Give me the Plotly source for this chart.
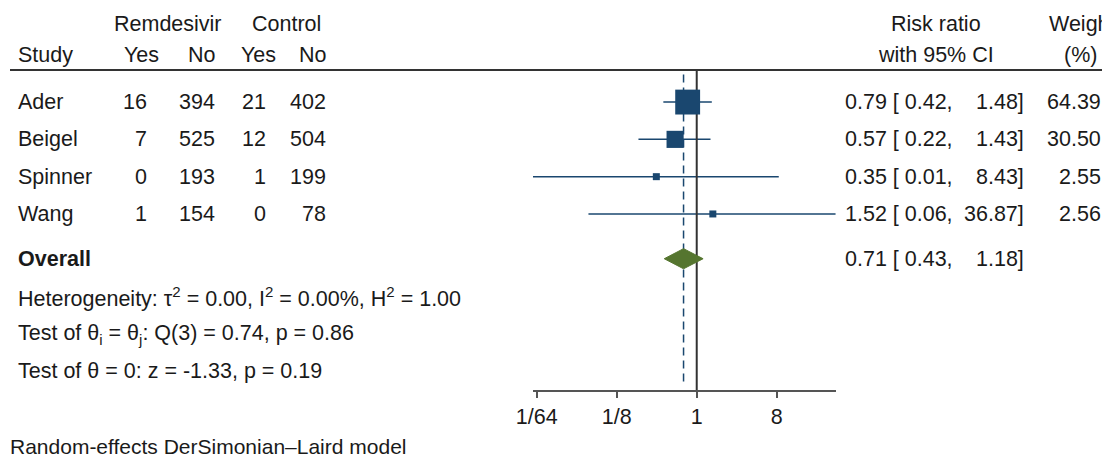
import plotly.graph_objects as go
import math

studies = ["Ader", "Beigel", "Spinner", "Wang"]
rem_yes = [16, 7, 0, 1]
rem_no = [394, 525, 193, 154]
ctl_yes = [21, 12, 1, 0]
ctl_no = [402, 504, 199, 78]
rr = [0.79, 0.57, 0.35, 1.52]
rr_lo = [0.42, 0.22, 0.01, 0.06]
rr_hi = [1.48, 1.43, 8.43, 36.87]
weight = [64.39, 30.50, 2.55, 2.56]
overall = [0.71, 0.43, 1.18]

tick_vals = [1 / 64, 1 / 8, 1, 8]
tick_text = ["1/64", "1/8", "1", "8"]

# page has an 8px body margin, so everything is placed 8px in from the window edge
OFF = 8
W, H = 1110, 449
L, R, T, B = 525, 282, 62, 67
Y_TOP, Y_BOT = -0.86, 7.72
FONT = "Liberation Sans, Arial, sans-serif"
NAVY = "#1a476f"
GREEN = "#55752f"
TXT = "#1a1a1a"
FS = 21.5

rows = [0, 1, 2, 3]
row_overall = 4.2
row_stats = [5.22, 6.22, 7.21]


def px(x):
    return (x - OFF - L) / (W - L - R)


def py(y):
    return 1 - (y - OFF - T) / (H - T - B)


fig = go.Figure()

# CI lines
xs, ys = [], []
for i in range(len(studies)):
    xs += [rr_lo[i], rr_hi[i], None]
    ys += [rows[i], rows[i], None]
fig.add_trace(go.Scatter(x=xs, y=ys, mode="lines", line=dict(color=NAVY, width=1.5),
                         hoverinfo="skip", showlegend=False))

# no-effect line and overall dashed line
fig.add_trace(go.Scatter(x=[1, 1], y=[Y_TOP, Y_BOT], mode="lines",
                         line=dict(color="#333333", width=2), showlegend=False))
fig.add_trace(go.Scatter(x=[overall[0], overall[0]], y=[Y_TOP + 0.12, Y_BOT - 0.12], mode="lines",
                         line=dict(color=NAVY, width=1.5, dash="8px,5px"), showlegend=False))

# weighted squares
sizes = [max(3.1 * math.sqrt(w), 7) for w in weight]
fig.add_trace(go.Scatter(x=rr, y=rows, mode="markers",
                         marker=dict(symbol="square", size=sizes, color=NAVY, opacity=1,
                                     line=dict(width=0)),
                         showlegend=False))

# overall diamond
dh = 0.27
fig.add_trace(go.Scatter(x=[overall[1], overall[0], overall[2], overall[0], overall[1]],
                         y=[row_overall, row_overall - dh, row_overall, row_overall + dh, row_overall],
                         mode="lines", fill="toself", fillcolor=GREEN,
                         line=dict(color=GREEN, width=1), showlegend=False))


def txt(x, y, s, anchor="left", yref="y", size=FS, bold=False):
    if bold:
        s = "<b>" + s + "</b>"
    fig.add_annotation(x=px(x), y=y, xref="paper", yref=yref, text=s, showarrow=False,
                       xanchor=anchor, yanchor="middle", font=dict(family=FONT, size=size, color=TXT))


# headers (positions in window pixels)
h1, h2 = py(24), py(55)
txt(168, h1, "Remdesivir", "center", yref="paper")
txt(286, h1, "Control", "center", yref="paper")
txt(936, h1, "Risk ratio", "center", yref="paper")
txt(1047, h1, "Weight", "left", yref="paper")
txt(16, h2, "Study", yref="paper")
txt(141, h2, "Yes", "center", yref="paper")
txt(202, h2, "No", "center", yref="paper")
txt(258, h2, "Yes", "center", yref="paper")
txt(313, h2, "No", "center", yref="paper")
txt(936, h2, "with 95% CI", "center", yref="paper")
txt(1080, h2, "(%)", "center", yref="paper")

for i, s in enumerate(studies):
    y = rows[i]
    txt(16, y, s)
    txt(149, y, str(rem_yes[i]), "right")
    txt(217, y, str(rem_no[i]), "right")
    txt(268, y, str(ctl_yes[i]), "right")
    txt(328, y, str(ctl_no[i]), "right")
    txt(843, y, f"{rr[i]:.2f} [ {rr_lo[i]:.2f},")
    txt(1026, y, f"{rr_hi[i]:.2f}]", "right")
    txt(1103, y, f"{weight[i]:.2f}", "right")

txt(16, row_overall, "Overall", bold=True)
txt(843, row_overall, f"{overall[0]:.2f} [ {overall[1]:.2f},")
txt(1026, row_overall, f"{overall[2]:.2f}]", "right")

txt(16, row_stats[0], "Heterogeneity: τ<sup>2</sup> = 0.00, I<sup>2</sup> = 0.00%, H<sup>2</sup> = 1.00")
txt(16, row_stats[1], "Test of θ<sub>i</sub> = θ<sub>j</sub>: Q(3) = 0.74, p = 0.86")
txt(16, row_stats[2], "Test of θ = 0: z = -1.33, p = 0.19")

txt(8, py(446), "Random-effects DerSimonian–Laird model", yref="paper", size=21)

# top rule
fig.add_shape(type="line", xref="paper", yref="paper", x0=px(10), x1=px(1120), y0=1, y1=1,
              line=dict(color="#333333", width=2))

fig.update_layout(
    width=W, height=H,
    margin=dict(l=L, r=R, t=T, b=B, pad=0),
    paper_bgcolor="white", plot_bgcolor="white",
    font=dict(family=FONT, size=FS, color=TXT),
    xaxis=dict(type="log", range=[math.log10(0.0142), math.log10(37.3)],
               tickvals=tick_vals, ticktext=tick_text, ticks="outside", ticklen=6,
               tickcolor="#555555", tickwidth=1.5, showline=True, linecolor="#555555",
               linewidth=1.5, showgrid=False, zeroline=False,
               tickfont=dict(family=FONT, size=FS, color=TXT)),
    yaxis=dict(range=[Y_BOT, Y_TOP], visible=False, showgrid=False, zeroline=False),
)

fig.write_html("out.html")
